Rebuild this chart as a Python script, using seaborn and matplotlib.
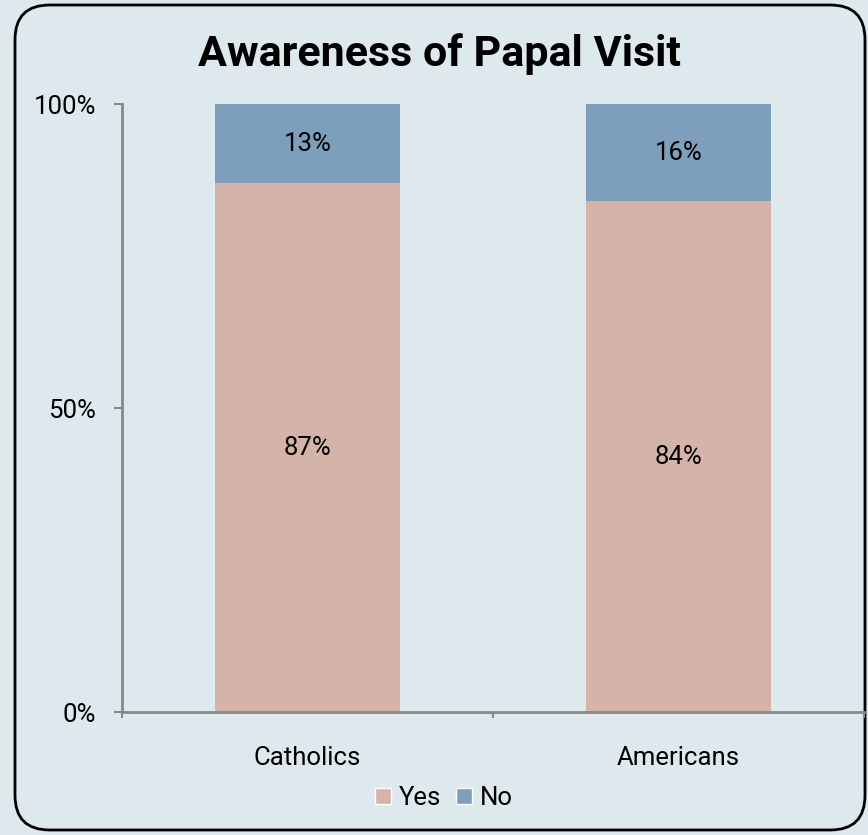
import matplotlib
matplotlib.use("Agg")
import matplotlib.pyplot as plt
import seaborn as sns
import pandas as pd
from matplotlib.patches import FancyBboxPatch, Patch

categories = ["Catholics", "Americans"]
yes_values = [87, 84]
no_values = [13, 16]
series_names = ["Yes", "No"]
yes_color = "#D4B4A8"
no_color = "#7D9FBC"
bg = "#DEE9EE"

sns.set_theme(style="white")
plt.rcParams['font.family'] = ['Roboto', 'DejaVu Sans']
plt.rcParams['text.color'] = 'black'
plt.rcParams['xtick.color'] = 'black'
plt.rcParams['ytick.color'] = 'black'

df = pd.DataFrame({"cat": categories, "yes": yes_values, "no": no_values})

fig = plt.figure(figsize=(8.68, 8.35), dpi=100, facecolor=bg)
border = FancyBboxPatch((15/868, 5/835), 850/868, 825/835,
                        boxstyle="round,pad=0,rounding_size=0.04",
                        transform=fig.transFigure, facecolor=bg,
                        edgecolor="black", linewidth=2, mutation_aspect=868/835,
                        zorder=-10)
fig.patches.append(border)

ax = fig.add_axes([122/868, 1-712/835, (864-122)/868, (712-104)/835])
ax.set_zorder(5)
ax.patch.set_alpha(0)

sns.barplot(data=df, x="cat", y="no", bottom=df["yes"], color=no_color,
            width=0.5, ax=ax, saturation=1, linewidth=0)
sns.barplot(data=df, x="cat", y="yes", color=yes_color,
            width=0.5, ax=ax, saturation=1, linewidth=0)

fs = 18.5
for i, (y, n) in enumerate(zip(yes_values, no_values)):
    ax.text(i, y/2, f"{y}%", ha="center", va="center", fontsize=fs, color="black")
    ax.text(i, y + n/2, f"{n}%", ha="center", va="center", fontsize=fs, color="black")

ax.set_ylim(0, 100)
ax.set_xlim(-0.5, 1.5)
ax.set_yticks([0, 50, 100])
ax.set_yticklabels(["0%", "50%", "100%"], fontsize=fs)
ax.set_xticks([0, 1])
ax.set_xticklabels(categories, fontsize=fs)
ax.set_xticks([-0.5, 0.5, 1.5], minor=True)
ax.tick_params(axis="x", which="major", length=0, pad=24.5)
ax.tick_params(axis="x", which="minor", length=4.5, width=1.5, color="#888888", direction="out", bottom=True)
ax.tick_params(axis="y", length=6, width=1.5, color="#888888", direction="out", pad=12.5, left=True)
ax.set_xlabel("")
ax.set_ylabel("")
for s in ["top", "right"]:
    ax.spines[s].set_visible(False)
for s in ["left", "bottom"]:
    ax.spines[s].set_color("#888888")
    ax.spines[s].set_linewidth(2)

fig.text(440/868, 1-54/835, "Awareness of Papal Visit", ha="center", va="center",
         fontsize=31, fontweight="bold", color="black")

handles = [Patch(facecolor=yes_color, label=series_names[0]),
           Patch(facecolor=no_color, label=series_names[1])]
fig.legend(handles=handles, loc="center", bbox_to_anchor=(444/868, 1-798/835),
           ncol=2, frameon=False, fontsize=fs, handlelength=0.6, handleheight=0.6,
           handletextpad=0.3, columnspacing=0.6)

fig.savefig("out.png", dpi=100, facecolor=bg)
